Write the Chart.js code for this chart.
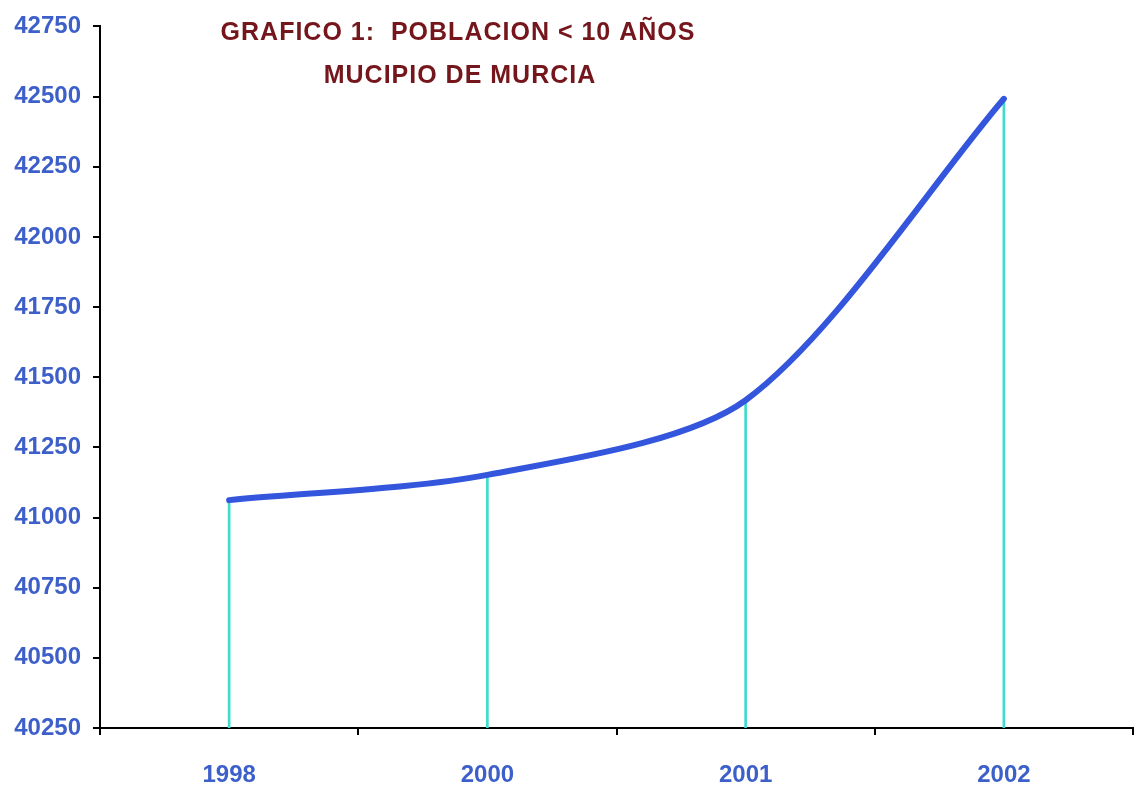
<!DOCTYPE html>
<html>
<head>
<meta charset="utf-8">
<script src="https://cdn.jsdelivr.net/npm/chart.js@4/dist/chart.umd.min.js"></script>
<style>
  html, body { margin: 0; padding: 0; background: #fff; }
  #wrap { width: 1142px; height: 787px; }
</style>
</head>
<body>
<div id="wrap"><canvas id="pobChart" width="1142" height="787"></canvas></div>
<script>
// data
const years = ["1998", "2000", "2001", "2002"];
const poblacion = [41062, 41152, 41418, 42492];
const yMin = 40250, yMax = 42750, yStep = 250;
const titleLines = ["GRAFICO 1:  POBLACION < 10 AÑOS", "MUCIPIO DE MURCIA"];

const tickBlue = "#3d5fc9";
const tickFont = { family: "'Liberation Sans', Arial, sans-serif", size: 24, weight: "bold" };

// title drawn over the plot area, like the original
const titlePlugin = {
    id: "overTitle",
    afterDraw(chart) {
        const ctx = chart.ctx;
        ctx.save();
        ctx.fillStyle = "#74161b";
        ctx.font = "bold 25px 'Liberation Sans', Arial, sans-serif";
        ctx.letterSpacing = "1px";
        ctx.textAlign = "center";
        ctx.textBaseline = "middle";
        ctx.fillText(titleLines[0], 458, 33);
        ctx.fillText(titleLines[1], 460, 76);
        ctx.restore();
    }
};

const ctx = document.getElementById("pobChart").getContext("2d");

new Chart(ctx, {
    type: "bar",
    data: {
        labels: years,
        datasets: [{
            type: "line",
            label: "Poblacion",
            data: poblacion,
            borderColor: "#3456dc",
            borderWidth: 6,
            borderCapStyle: "round",
            tension: 0.28,
            pointRadius: 0,
            fill: false,
            order: 1
        }, {
            type: "bar",
            label: "drop",
            data: poblacion,
            backgroundColor: "#3fdccc",
            barThickness: 2,
            order: 2
        }]
    },
    options: {
        responsive: false,
        animation: false,
        layout: { padding: { top: 23, right: 9, left: 0, bottom: 0 } },
        plugins: {
            legend: { display: false },
            tooltip: { enabled: false }
        },
        scales: {
            x: {
                offset: true,
                grid: {
                    offset: true,
                    drawOnChartArea: false,
                    drawTicks: true,
                    tickLength: 7,
                    color: "#000",
                    lineWidth: 2
                },
                border: { display: true, color: "#000", width: 2 },
                ticks: {
                    color: tickBlue,
                    font: tickFont,
                    padding: 26
                },
                afterFit: s => { s.height = 59; }
            },
            y: {
                min: yMin,
                max: yMax,
                grid: {
                    drawOnChartArea: false,
                    drawTicks: true,
                    tickLength: 7,
                    color: "#000",
                    lineWidth: 2
                },
                border: { display: true, color: "#000", width: 2 },
                ticks: {
                    stepSize: yStep,
                    color: tickBlue,
                    font: tickFont,
                    padding: 12,
                    callback: v => String(v)
                },
                afterFit: s => { s.width = 100; }
            }
        }
    },
    plugins: [titlePlugin]
});
</script>
</body>
</html>
